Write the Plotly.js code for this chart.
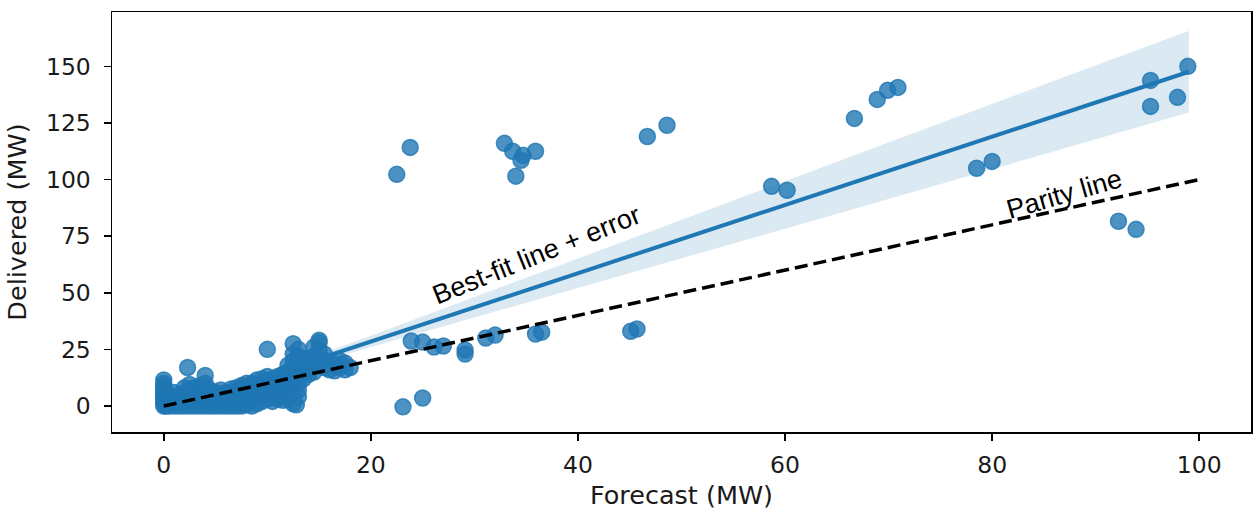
<!DOCTYPE html>
<html>
<head>
<meta charset="utf-8">
<script src="https://cdn.plot.ly/plotly-3.0.1.min.js"></script>
<style>html,body{margin:0;padding:0;background:#fff;}#chart{width:1253px;height:510px;}</style>
</head>
<body>
<div id="chart"></div>
<script>
// Scatter data: forecast (MW) vs delivered (MW)
const clusterX = [
  0,0,0,0,0,0,0,0,0,0,0,0,
  0.2,0.2,0.2,
  0.5,0.5,0.5,0.5,
  1,1,1,1,1,
  1.5,1.5,1.5,1.5,
  2,2,2,2,2,
  2.3,
  2.5,2.5,2.5,2.5,2.5,2.5,
  3,3,3,3,3,
  3.5,3.5,3.5,3.5,3.5,3.5,
  4,4,4,4,4,4,4,
  4.5,4.5,4.5,4.5,4.5,
  5,5,5,5,
  5.5,5.5,5.5,5.5,5.5,
  6,6,6,6,
  6.5,6.5,6.5,6.5,6.5,
  7,7,7,7,7,
  7.5,7.5,7.5,7.5,7.5,7.5,
  8,8,8,8,8,8,
  8.5,8.5,8.5,8.5,8.5,8.5,
  9,9,9,9,9,9,
  9.5,9.5,9.5,9.5,9.5,9.5,
  10,10,10,10,10,10,10,
  10.5,10.5,10.5,10.5,10.5,10.5,
  11,11,11,11,11,11,
  11.5,11.5,11.5,11.5,11.5,11.5,11.5,
  12,12,12,12,12,12,
  12.5,12.5,12.5,12.5,12.5,12.5,12.5,12.5,12.5,
  12.8,
  13,13,13,13,13,13,13,13,
  13.5,13.5,13.5,13.5,
  14,14,14,
  14.5,14.5,14.5,14.5,
  15,15,15,15,15,
  15.5,15.5,15.5,
  16,16,
  16.5,16.5,
  17,17,
  17.5,17.5,
  18
];
const clusterY = [
  0,1,2,3,4,5,6,7,8,9,10,11.5,
  0,2,4,
  0,1.5,3,5,
  0,1,2.5,4,6,
  0,1.5,3,5,
  0,2,4,6,8,
  17,
  0,1,3,5,7,9.5,
  0,2,4,6,8,
  0,1,3,5,7,9,
  0,2,4,6,8,10,13.5,
  0,1.5,3,5,7,
  0,2,4,6,
  0,1,3,5,7,
  0,2,4,6,
  0,1.5,3.5,5.5,7.5,
  0,2,4,6,8,
  0,1,3,5,7,9,
  0.5,2.5,4.5,6.5,8.5,10,
  0,2,4,6,8,10,
  1,3,5,7,9,11.5,
  2,4,6,8,10,12,
  3,5,7,9,11,13,25,
  2,4,6,8,10,12,
  3,5,7,9,11,13,
  2.5,4.5,6.5,8.5,10.5,12.5,14,
  3,6,9,12,15,18,
  1,5,8,11,14,17,20,23,27.5,
  0.5,
  4,7,10,13,16,19,22,25,
  12,15,18,21,
  14,17,20,
  15,19,22,26,
  18,21,24.5,28,29,
  17,20,23,
  16,19,
  15.5,18.5,
  17,20,
  16,19,
  17
];
const outlierX = [22.5,23.8,32.9,33.7,34.0,34.5,34.7,35.9,46.7,48.6,58.7,60.2,66.7,68.9,69.9,70.9,78.5,80.0,92.2,93.9,95.3,95.3,97.9,98.9,
  23.9,25.0,26.1,27.0,29.1,29.1,31.1,32.0,35.9,36.5,45.1,45.7,23.1,25.0];
const outlierY = [102.3,114.2,116.0,112.5,101.5,108.5,110.7,112.5,119.0,124.0,97.0,95.3,127.0,135.4,139.4,140.7,105.0,108.0,81.6,78.0,143.8,132.3,136.3,150.0,
  28.7,28.2,26.0,26.5,24.7,22.9,30.0,31.3,31.8,32.6,33.0,34.0,-0.4,3.5];

// Best-fit line and its confidence band
const fitX = [0, 10, 20, 30, 40, 50, 60, 70, 80, 90, 99];
const fitY = [-1.7, 13.4, 28.5, 43.5, 58.6, 73.7, 88.8, 103.9, 119.0, 134.0, 147.6];
const bandUpper = [0.0, 14.5, 31.0, 48.0, 65.0, 82.2, 99.3, 116.4, 133.5, 150.5, 165.6];
const bandLower = [-3.4, 12.3, 26.0, 39.0, 52.2, 65.2, 78.3, 91.4, 104.5, 117.5, 129.6];

// Parity line
const parityX = [0, 100];
const parityY = [0, 100];

const xTicks = [0, 20, 40, 60, 80, 100];
const yTicks = [0, 25, 50, 75, 100, 125, 150];

const allX = clusterX.concat(outlierX);
const allY = clusterY.concat(outlierY);

const blue = '#1f77b4';
const traces = [
  {x: fitX, y: bandLower, mode: 'lines', line: {width: 0, color: 'rgba(0,0,0,0)'}, showlegend: false, hoverinfo: 'skip'},
  {x: fitX, y: bandUpper, mode: 'lines', line: {width: 0, color: 'rgba(0,0,0,0)'}, fill: 'tonexty', fillcolor: 'rgba(31,119,180,0.16)', showlegend: false, hoverinfo: 'skip'},
  {x: allX, y: allY, mode: 'markers', type: 'scatter',
   marker: {size: 16, color: 'rgba(31,119,180,0.8)', line: {color: 'rgba(31,119,180,0.8)', width: 1.5}}, showlegend: false},
  {x: fitX, y: fitY, mode: 'lines', line: {color: blue, width: 4}, showlegend: false},
  {x: parityX, y: parityY, mode: 'lines', line: {color: '#000', width: 3.5, dash: '13px,6px'}, showlegend: false}
];

const tickFont = {family: 'DejaVu Sans', size: 23.5, color: '#1a1a1a'};
const titleFont = {family: 'DejaVu Sans', size: 25.5, color: '#1a1a1a'};
const layout = {
  width: 1253, height: 510,
  margin: {l: 112, r: 2, t: 12, b: 78},
  paper_bgcolor: '#fff', plot_bgcolor: '#fff',
  showlegend: false,
  xaxis: {
    range: [-5, 105], tickvals: xTicks, ticktext: xTicks.map(String),
    showgrid: false, zeroline: false, showline: true, mirror: true, linecolor: '#000', linewidth: 1.5,
    ticks: 'outside', ticklen: 7, tickwidth: 1.5, tickcolor: '#000', tickfont: tickFont, ticklabelstandoff: 4,
    title: {text: 'Forecast (MW)', font: titleFont, standoff: 8}
  },
  yaxis: {
    range: [-11.5, 174], tickvals: yTicks, ticktext: yTicks.map(String),
    showgrid: false, zeroline: false, showline: true, mirror: true, linecolor: '#000', linewidth: 1.5,
    ticks: 'outside', ticklen: 7, tickwidth: 1.5, tickcolor: '#000', tickfont: tickFont, ticklabelstandoff: 8,
    title: {text: 'Delivered (MW)', font: titleFont, standoff: 12}
  },
  annotations: [
    {x: 36, y: 66.6, xref: 'x', yref: 'y', text: 'Best-fit line + error', showarrow: false, textangle: -22,
     font: {family: 'Liberation Sans, Arial', size: 27, color: '#000'}, xanchor: 'center', yanchor: 'middle'},
    {x: 87, y: 93.5, xref: 'x', yref: 'y', text: 'Parity line', showarrow: false, textangle: -16,
     font: {family: 'Liberation Sans, Arial', size: 27, color: '#000'}, xanchor: 'center', yanchor: 'middle'}
  ]
};

Plotly.newPlot('chart', traces, layout, {displayModeBar: false, staticPlot: true});
</script>
</body>
</html>
